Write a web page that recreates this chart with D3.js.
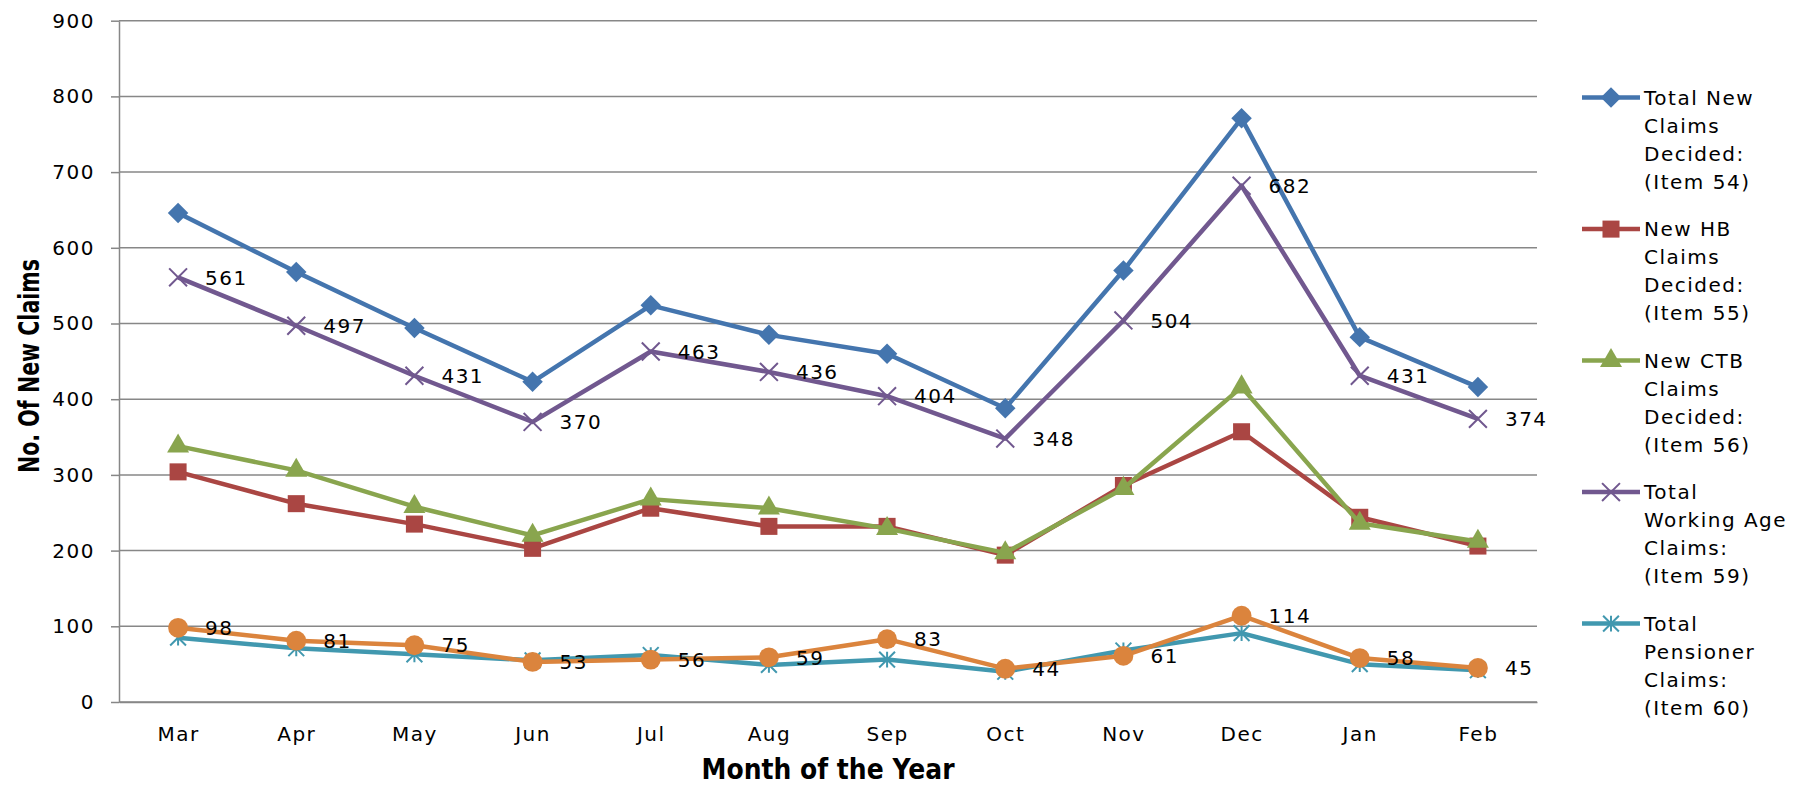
<!DOCTYPE html>
<html>
<head>
<meta charset="utf-8">
<script src="https://cdn.jsdelivr.net/npm/d3@7"></script>
<style>
body { margin: 0; background: #fff; }
svg text { font-family: "DejaVu Sans", Verdana, sans-serif; fill: #000; }
</style>
</head>
<body>
<svg id="chart" width="1800" height="786"></svg>
<script>
// Values
var months = ["Mar", "Apr", "May", "Jun", "Jul", "Aug", "Sep", "Oct", "Nov", "Dec", "Jan", "Feb"];
var yTicks = [0, 100, 200, 300, 400, 500, 600, 700, 800, 900];

var totalNew = [646, 568, 494, 423, 524, 485, 460, 388, 570, 771, 482, 416];
var newHB = [304, 262, 235, 203, 256, 232, 232, 194, 286, 357, 244, 206];
var newCTB = [338, 306, 258, 220, 268, 256, 229, 197, 282, 416, 236, 212];
var workingAge = [561, 497, 431, 370, 463, 436, 404, 348, 504, 682, 431, 374];
var pensioner = [85, 71, 63, 55, 62, 49, 56, 40, 68, 91, 50, 42];
var orangeSeries = [98, 81, 75, 53, 56, 59, 83, 44, 61, 114, 58, 45];

var legendNames = [
    ["Total New", "Claims", "Decided:", "(Item 54)"],
    ["New HB", "Claims", "Decided:", "(Item 55)"],
    ["New CTB", "Claims", "Decided:", "(Item 56)"],
    ["Total", "Working Age", "Claims:", "(Item 59)"],
    ["Total", "Pensioner", "Claims:", "(Item 60)"]
];

// custom marker shapes for d3.symbol
var symbolDiamond = {
    draw: function (ctx, size) {
        var r = Math.sqrt(size) / 2;
        ctx.moveTo(0, -r); ctx.lineTo(r, 0); ctx.lineTo(0, r); ctx.lineTo(-r, 0); ctx.closePath();
    }
};
var symbolCross = {
    draw: function (ctx, size) {
        var r = Math.sqrt(size) / 2;
        ctx.moveTo(-r, -r); ctx.lineTo(r, r);
        ctx.moveTo(-r, r); ctx.lineTo(r, -r);
    }
};
var symbolStar = {
    draw: function (ctx, size) {
        var r = Math.sqrt(size) / 2;
        ctx.moveTo(-r, -r); ctx.lineTo(r, r);
        ctx.moveTo(-r, r); ctx.lineTo(r, -r);
        ctx.moveTo(0, -r); ctx.lineTo(0, r);
    }
};

var series = [
    {values: totalNew, color: "#4475AE", shape: symbolDiamond, size: 420, fill: true, legend: 0},
    {values: newHB, color: "#AA4643", shape: d3.symbolSquare, size: 290, fill: true, legend: 1},
    {values: newCTB, color: "#89A54E", shape: d3.symbolTriangle, size: 210, fill: true, legend: 2},
    {values: workingAge, color: "#71588F", shape: symbolCross, size: 320, fill: false, legend: 3, labels: true},
    {values: pensioner, color: "#4198AF", shape: symbolStar, size: 250, fill: false, legend: 4},
    {values: orangeSeries, color: "#DB843D", shape: d3.symbolCircle, size: 310, fill: true, labels: true}
];

var svg = d3.select("#chart");
var plotLeft = 119, plotRight = 1537, plotTop = 20.7, plotBottom = 702;
var gridColor = "#878787";

var x = d3.scalePoint()
    .domain(months)
    .range([plotLeft, plotRight])
    .padding(0.5);

var y = d3.scaleLinear()
    .domain([0, 900])
    .range([plotBottom, plotTop]);

// Gridlines
svg.append("g")
    .selectAll("line")
    .data(yTicks)
    .enter().append("line")
    .attr("x1", plotLeft)
    .attr("x2", plotRight)
    .attr("y1", function (d) { return y(d); })
    .attr("y2", function (d) { return y(d); })
    .attr("stroke", gridColor)
    .attr("stroke-width", 1.5);

// Y axis
var yAxis = svg.append("g")
    .attr("transform", "translate(" + plotLeft + ",0)")
    .call(d3.axisLeft(y).tickValues(yTicks).tickSize(8).tickSizeOuter(0).tickPadding(16));
yAxis.select(".domain").attr("stroke", gridColor).attr("stroke-width", 1.5);
yAxis.selectAll(".tick line").attr("stroke", gridColor).attr("stroke-width", 1.5);
yAxis.selectAll(".tick text")
    .attr("font-size", 20)
    .attr("letter-spacing", 1.5)
    .attr("font-family", "DejaVu Sans");

// X axis
var xAxis = svg.append("g")
    .attr("transform", "translate(0," + plotBottom + ")")
    .call(d3.axisBottom(x).tickSize(0).tickPadding(25));
xAxis.select(".domain").attr("stroke", gridColor).attr("stroke-width", 1.5);
xAxis.selectAll(".tick text")
    .attr("font-size", 20)
    .attr("letter-spacing", 1.5)
    .attr("font-family", "DejaVu Sans");

// Axis titles
svg.append("text")
    .attr("x", (plotLeft + plotRight) / 2)
    .attr("y", 779)
    .attr("text-anchor", "middle")
    .attr("font-family", "Liberation Sans, Arial, sans-serif")
    .attr("font-size", 28)
    .attr("font-weight", "bold")
    .attr("textLength", 253)
    .attr("lengthAdjust", "spacingAndGlyphs")
    .text("Month of the Year");

svg.append("text")
    .attr("transform", "translate(39,366) rotate(-90)")
    .attr("text-anchor", "middle")
    .attr("font-family", "Liberation Sans, Arial, sans-serif")
    .attr("font-size", 28)
    .attr("font-weight", "bold")
    .attr("textLength", 214)
    .attr("lengthAdjust", "spacingAndGlyphs")
    .text("No. Of New Claims");

// Series lines and markers
var line = d3.line()
    .x(function (d, i) { return x(months[i]); })
    .y(function (d) { return y(d); });

series.forEach(function (s) {
    var g = svg.append("g");
    g.append("path")
        .datum(s.values)
        .attr("fill", "none")
        .attr("stroke", s.color)
        .attr("stroke-width", 4.5)
        .attr("stroke-linejoin", "round")
        .attr("d", line);

    g.selectAll(".marker")
        .data(s.values)
        .enter().append("path")
        .attr("class", "marker")
        .attr("transform", function (d, i) { return "translate(" + x(months[i]) + "," + y(d) + ")"; })
        .attr("d", d3.symbol().type(s.shape).size(s.size))
        .attr("fill", s.fill ? s.color : "none")
        .attr("stroke", s.color)
        .attr("stroke-width", s.fill ? 0 : 2);
});

// Data labels (only for two of the series)
series.forEach(function (s) {
    if (!s.labels) return;
    svg.append("g")
        .selectAll("text")
        .data(s.values)
        .enter().append("text")
        .attr("x", function (d, i) { return x(months[i]) + 27; })
        .attr("y", function (d) { return y(d); })
        .attr("dy", "0.36em")
        .attr("font-size", 20)
        .attr("letter-spacing", 1.5)
        .text(function (d) { return d; });
});

// Legend
var legend = svg.append("g");
var legendTop = 97.6, entryGap = 131.5, linePitch = 28;
series.forEach(function (s) {
    if (s.legend === undefined) return;
    var ly = legendTop + s.legend * entryGap;
    var item = legend.append("g");
    item.append("line")
        .attr("x1", 1582).attr("x2", 1640)
        .attr("y1", ly).attr("y2", ly)
        .attr("stroke", s.color)
        .attr("stroke-width", 4.5);
    item.append("path")
        .attr("transform", "translate(1611," + ly + ")")
        .attr("d", d3.symbol().type(s.shape).size(s.size))
        .attr("fill", s.fill ? s.color : "none")
        .attr("stroke", s.color)
        .attr("stroke-width", s.fill ? 0 : 2);
    var t = item.append("text")
        .attr("x", 1644)
        .attr("y", ly)
        .attr("font-size", 20)
        .attr("letter-spacing", 1.5);
    t.selectAll("tspan")
        .data(legendNames[s.legend])
        .enter().append("tspan")
        .attr("x", 1644)
        .attr("y", function (d, i) { return ly + i * linePitch; })
        .attr("dy", "0.36em")
        .text(function (d) { return d; });
});
</script>
</body>
</html>
